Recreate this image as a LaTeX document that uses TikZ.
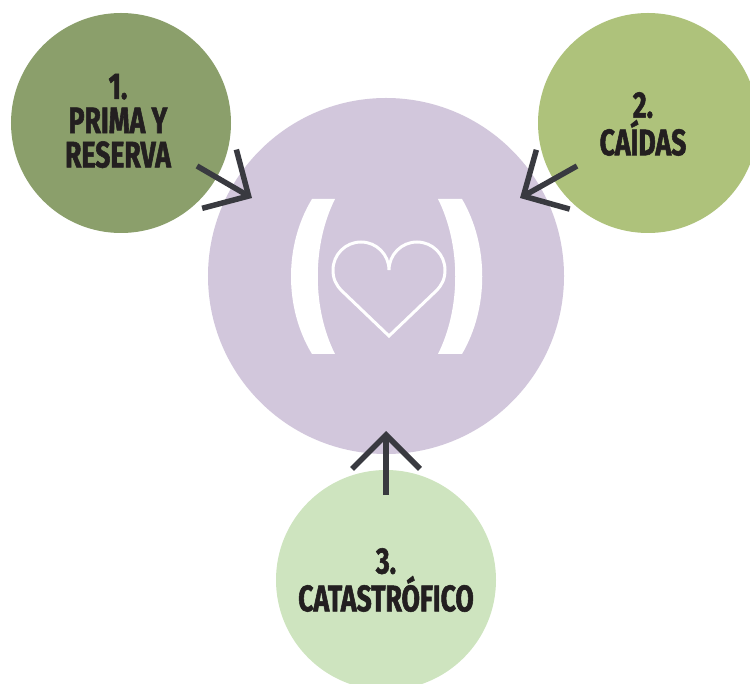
\documentclass[tikz,border=0pt]{standalone}
\usepackage{fontspec}
\usetikzlibrary{arrows.meta}
\newfontfamily\circlefont[FakeStretch=0.72,FakeBold=1.5]{Fira Sans Bold}
\definecolor{centrecol}{HTML}{D2C7DC}
\definecolor{primacol}{HTML}{8B9F6B}
\definecolor{caidascol}{HTML}{AEC27B}
\definecolor{catascol}{HTML}{CEE4BF}
\definecolor{arrowcol}{HTML}{393A40}
\definecolor{textcol}{HTML}{231F20}
\tikzset{
    disc/.style={circle,inner sep=0pt,minimum size=44mm},
    bigdisc/.style={circle,inner sep=0pt,minimum size=71.2mm,fill=centrecol},
    disclabel/.style={font=\circlefont\fontsize{21}{19.5}\selectfont,text=textcol,align=center,inner sep=0pt},
    inarrow/.style={draw=arrowcol,line width=1.1mm,-{Straight Barb[length=6.8mm,width=13.6mm,line width=1.1mm]}},
    bracket/.style={fill=white,draw=none},
    heartline/.style={draw=white,line width=0.6mm}
}
\begin{document}
\begin{tikzpicture}[x=0.2mm,y=-0.2mm]
        \useasboundingbox (0,0) rectangle (750,684);
        \clip (0,0) rectangle (750,684);

        \node [bigdisc] (centre) at (386,276) {};
        \node [disc,fill=primacol] (prima) at (121,123) {};
        \node [disc,fill=caidascol] (caidas) at (648,123) {};
        \node [disc,fill=catascol] (catas) at (386,580) {};

        \node [disclabel] (primatext) at (118,121) {1.\\PRIMA Y\\RESERVA};
        \node [disclabel] (caidastext) at (643,124) {2.\\CAÍDAS};
        \node [disclabel] (catastext) at (386,580) {3.\\CATASTRÓFICO};

        \fill [bracket]
            (312,199) -- (335,199)
            .. controls (312,245) and (312,308) .. (335,354)
            -- (312,354)
            .. controls (284,308) and (284,245) .. (312,199)

            (438,199) -- (462,199)
            .. controls (489,245) and (489,308) .. (462,354)
            -- (438,354)
            .. controls (461,308) and (461,245) .. (438,199)
            ;

        \draw [heartline]
            (389,270) arc [start angle=0,end angle=-180,radius=28]
            .. controls (333,279) and (336,285) .. (342,291)
            -- (389,336)
            -- (436,291)
            .. controls (442,285) and (445,279) .. (445,270)
            arc [start angle=0,end angle=-180,radius=28]
            ;

        \coordinate (primafrom) at (197,166);
        \coordinate (primatip) at (252,198);
        \coordinate (caidasfrom) at (577,166);
        \coordinate (caidastip) at (520,198);
        \coordinate (catasfrom) at (386,495);
        \coordinate (catastip) at (386,431);

        \draw [inarrow] (primafrom) -- (primatip);
        \draw [inarrow] (caidasfrom) -- (caidastip);
        \draw [inarrow] (catasfrom) -- (catastip);
    \end{tikzpicture}
\end{document}
